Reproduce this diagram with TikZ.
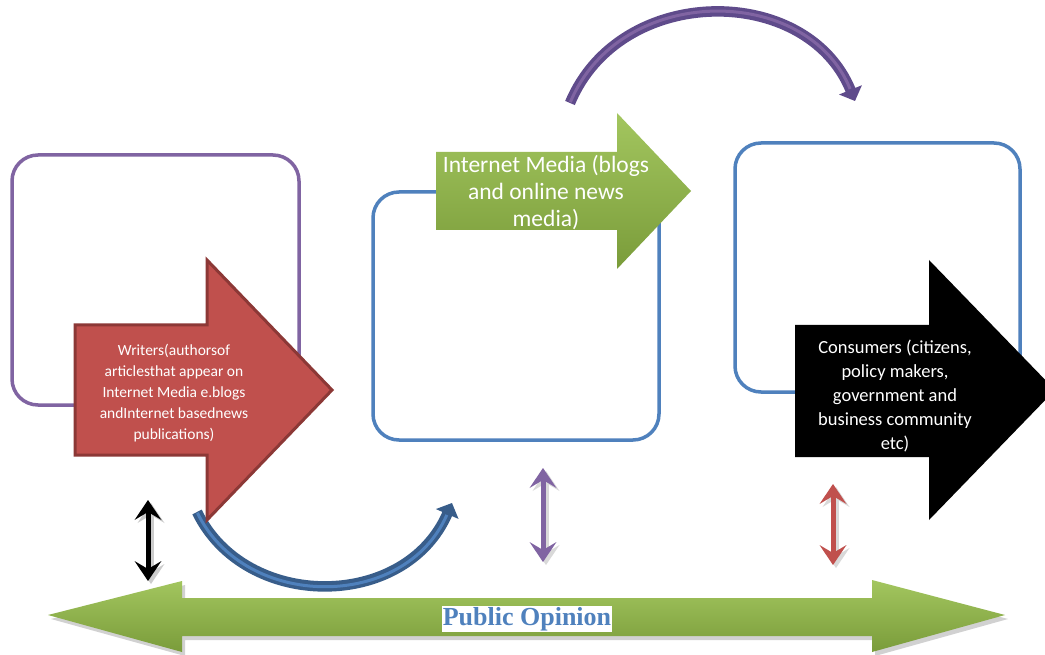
\documentclass[tikz,border=0pt]{standalone}
\usepackage{fontspec}
\setmainfont{Carlito}
\newfontfamily\serifbold{Liberation Serif}
\usetikzlibrary{arrows.meta}
\definecolor{purpleLine}{HTML}{8064A2}
\definecolor{purpleDark}{HTML}{5F4B8B}
\definecolor{blueLine}{HTML}{4F81BD}
\definecolor{blueDark}{HTML}{385D8A}
\definecolor{redFill}{HTML}{C0504D}
\definecolor{redDark}{HTML}{8C3836}
\definecolor{greenTop}{HTML}{A3C65F}
\definecolor{greenBot}{HTML}{7A9C3A}
\tikzset{
  roundbox/.style={draw, line width=3.5pt, rounded corners=26pt, inner sep=0pt},
  dbltip/.tip={Stealth[length=20pt,width=27pt,inset=8pt,line width=0pt]},
  dblarrow/.style={line width=5pt, dbltip-dbltip},
  curvearrow/.style={line width=10.5pt, -{Triangle[length=12pt,width=24pt]}},
  curveinner/.style={line width=3pt, shorten >=13pt, shorten <=1pt},
  arrowtext/.style={text=white, align=center, inner sep=0pt},
}
\begin{document}
\begin{tikzpicture}[x=1pt,y=-1pt]
\clip (0,0) rectangle (1045,655);
\fill[white] (0,0) rectangle (1045,655);

% rounded boxes
\node[roundbox, draw=purpleLine, minimum width=287pt, minimum height=250pt] (box1) at (155.5,280) {};
\node[roundbox, draw=blueLine, minimum width=286pt, minimum height=248pt] (box2) at (516,316) {};
\node[roundbox, draw=blueLine, minimum width=285pt, minimum height=249pt] (box3) at (877.5,267.5) {};

% top purple curved arrow
\coordinate (pa) at (570,103);
\coordinate (pb) at (855,101);
\draw[curvearrow, draw=purpleDark] (pa) .. controls (620,-17) and (807,-17) .. (pb);
\draw[curveinner, draw=purpleLine] (pa) .. controls (620,-17) and (807,-17) .. (pb);

% bottom blue curved arrow
\coordinate (ba) at (197,512);
\coordinate (bb) at (452,503);
\draw[curvearrow, draw=blueDark] (ba) .. controls (245,611) and (405,611) .. (bb);
\draw[curveinner, draw=blueLine] (ba) .. controls (245,611) and (405,611) .. (bb);

% red arrow (writers)
\draw[fill=redFill, draw=redDark, line width=3pt, line join=miter]
  (75,325) -- (207,325) -- (207,260) -- (332,390) -- (207,520) -- (207,455) -- (75,455) -- cycle;
\node[arrowtext, font=\fontsize{15.5}{21}\selectfont] (writers) at (174,393)
  {Writers(authorsof\\articlesthat appear on\\Internet Media e.blogs\\andInternet basednews\\publications)};

% green arrow (internet media)
\shade[top color=greenTop, bottom color=greenBot]
  (436,152) -- (617,152) -- (617,113) -- (691,191) -- (617,269) -- (617,230) -- (436,230) -- cycle;
\node[arrowtext, font=\fontsize{23.5}{27}\selectfont] (media) at (546,193)
  {Internet Media (blogs\\and online news\\media)};

% black arrow (consumers)
\fill[black]
  (795,325) -- (929,325) -- (929,260) -- (1055,390) -- (929,520) -- (929,457) -- (795,457) -- cycle;
\node[arrowtext, font=\fontsize{18.5}{24}\selectfont] (consumers) at (895,396)
  {Consumers (citizens,\\policy makers,\\government and\\business community\\etc)};

% double arrows
\coordinate (k1) at (148,500); \coordinate (k2) at (148,581);
\coordinate (v1) at (543,468); \coordinate (v2) at (543,562);
\coordinate (r1) at (833,484); \coordinate (r2) at (833,565);
\draw[dblarrow, draw=black!20, fill=black!20, transform canvas={xshift=3pt,yshift=-3pt}] (k1) -- (k2);
\draw[dblarrow, draw=black!15, fill=black!15, transform canvas={xshift=3pt,yshift=-3pt}] (v1) -- (v2);
\draw[dblarrow, draw=black!15, fill=black!15, transform canvas={xshift=3pt,yshift=-3pt}] (r1) -- (r2);
\draw[dblarrow, draw=black, fill=black] (k1) -- (k2);
\draw[dblarrow, draw=purpleLine, fill=purpleLine] (v1) -- (v2);
\draw[dblarrow, draw=redFill, fill=redFill] (r1) -- (r2);

% bottom public opinion arrow
\fill[black!18, shift={(3,4)}]
  (48,615) -- (182,581) -- (182,598) -- (872,598) -- (872,580) -- (1005,615) -- (872,652) -- (872,636) -- (182,636) -- (182,652) -- cycle;
\shade[top color=greenTop, bottom color=greenBot]
  (48,615) -- (182,581) -- (182,598) -- (872,598) -- (872,580) -- (1005,615) -- (872,652) -- (872,636) -- (182,636) -- (182,652) -- cycle;
\node[fill=white, inner sep=1pt, text=blueLine, font=\serifbold\bfseries\fontsize{26}{26}\selectfont] (opinion) at (527,619) {Public Opinion};
\end{tikzpicture}
\end{document}
